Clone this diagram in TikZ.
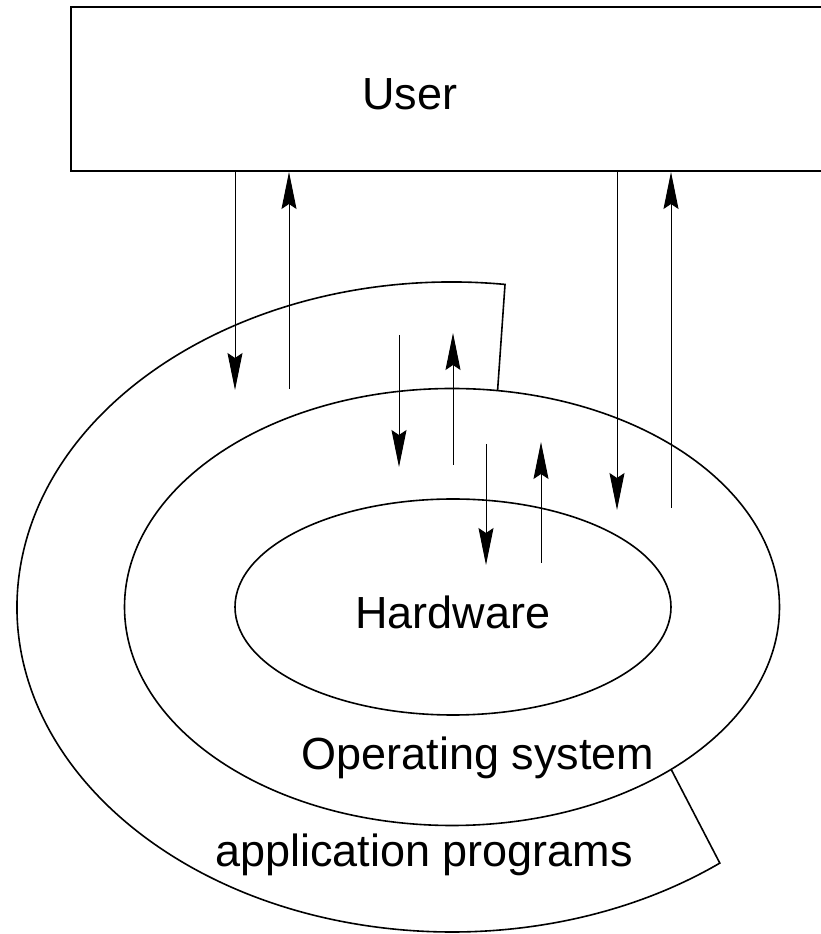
\documentclass[tikz,border=0pt]{standalone}
\usepackage{fontspec}
\setmainfont{Liberation Sans}
\usepackage{tikz}
\usetikzlibrary{positioning,arrows.meta,shapes.geometric,calc}

\begin{document}
\begin{tikzpicture}[x=1pt, y=1pt, font=\fontsize{45}{54}\selectfont,
	layer/.style={draw, ellipse, line width=1.6pt, inner sep=0pt},
	call/.style={line width=1pt, -{Stealth[length=37pt, width=15pt, inset=5pt]}},
	label/.style={anchor=base, inner sep=0pt}]
\useasboundingbox (0,0) rectangle (821,934);

\coordinate (c) at (452,327);
\node[draw, line width=2pt, minimum width=752pt, minimum height=164pt, inner sep=0pt] (user) at (447,845) {};
\node[label] (userlabel) at (410,824) {User};

\node[layer, minimum width=655pt, minimum height=437pt] (os) at (c) {};
\node[layer, minimum width=436pt, minimum height=216pt] (hw) at (453,327) {};
\node[label] (hwlabel) at (453,305) {Hardware};
\node[label] (oslabel) at (478,164) {Operating system};
\node[label] (applabel) at (424,67) {application programs};

% application programs wrap round the operating system
\coordinate (apptop) at ($(c)+(83:435 and 325)$);
\coordinate (appbot) at ($(c)+(308:435 and 325)$);
\coordinate (ostop) at ($(c)+(82:327.5 and 218.5)$);
\coordinate (osbot) at ($(c)+(312:327.5 and 218.5)$);
\draw[line width=1.6pt, line join=miter] (ostop) -- (apptop)
	arc[start angle=83, end angle=308, x radius=435, y radius=325] -- (osbot);

% user <-> applications and user <-> os
\coordinate (a1) at (235,544); \coordinate (a2) at (289,545);
\coordinate (a3) at (617,424); \coordinate (a4) at (671,426);
\draw[call] (user.south -| a1) -- (a1);
\draw[call] (a2) -- (user.south -| a2);
\draw[call] (user.south -| a3) -- (a3);
\draw[call] (a4) -- (user.south -| a4);

% applications <-> os, os <-> hardware
\coordinate (b1) at (399,599); \coordinate (b2) at (399,467);
\coordinate (b3) at (453,469); \coordinate (b4) at (453,601);
\coordinate (h1) at (486,490); \coordinate (h2) at (486,369);
\coordinate (h3) at (541,371); \coordinate (h4) at (541,492);
\draw[call] (b1) -- (b2);
\draw[call] (b3) -- (b4);
\draw[call] (h1) -- (h2);
\draw[call] (h3) -- (h4);
\end{tikzpicture}
\end{document}
